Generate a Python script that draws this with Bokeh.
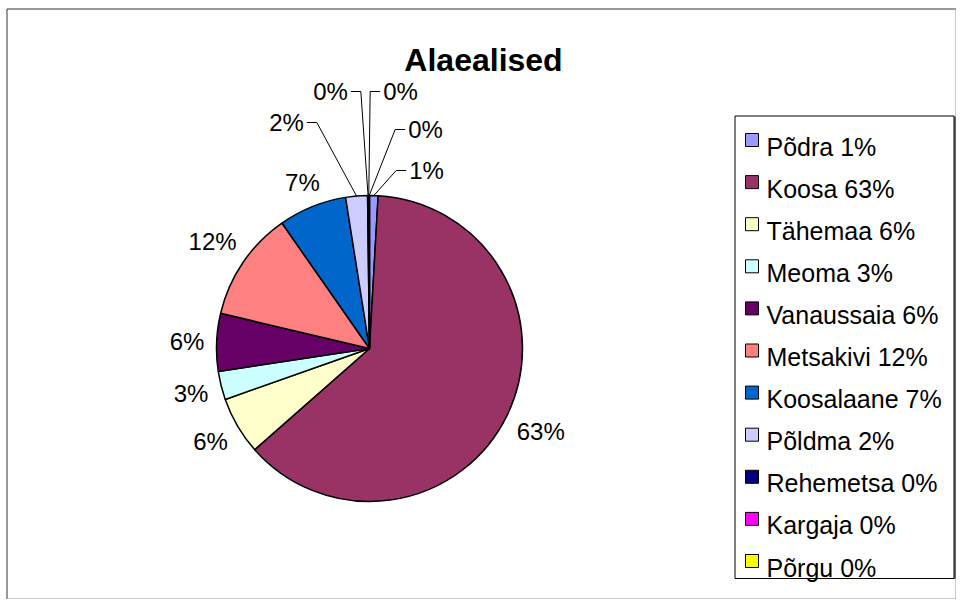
import math
from bokeh.plotting import figure
from bokeh.models import Range1d, ColumnDataSource
from bokeh.embed import file_html
from bokeh.resources import INLINE
from bokeh.core.properties import value

# ---------------- data ----------------
title = "Alaealised"
names = ["Põdra", "Koosa", "Tähemaa", "Meoma", "Vanaussaia", "Metsakivi",
         "Koosalaane", "Põldma", "Rehemetsa", "Kargaja", "Põrgu"]
shares = [0.9, 62.6, 6.1, 3.0, 6.1, 11.6, 7.2, 2.3, 0.1, 0.05, 0.05]
colors = ["#9999FF", "#993366", "#FFFFCC", "#CCFFFF", "#660066", "#FF8080",
          "#0066CC", "#CCCCFF", "#000080", "#FF00FF", "#FFFF00"]

# ---------------- layout ----------------
W, H = 956, 599
FONT = "Liberation Sans"
LBL_SIZE = 24
LEG_SIZE = 25


def X(px):
    return px


def Y(py):
    return H - py


CX, CY, R = X(369), Y(348), 153
GAP = 12
# label centre offsets (px from pie centre) for the crowded small slices
small_label_offsets = {0: (57, -178), 7: (-83, -226), 8: (-39, -257),
                       9: (31, -257), 10: (56, -219)}

p = figure(width=W, height=H, x_range=Range1d(0, W), y_range=Range1d(0, H),
           output_backend="svg", toolbar_location=None, min_border=0,
           x_axis_type=None, y_axis_type=None)
p.grid.visible = False
p.outline_line_color = None
p.background_fill_color = "white"
p.border_fill_color = "white"

# chart border
p.multi_line(xs=[[X(6.5), X(6.5), W - 0.5], [W - 0.5, W - 0.5, X(6.5)]],
             ys=[[0.5, Y(8.5), Y(8.5)], [Y(8.5), 0.5, 0.5]],
             line_color=["#333333", "#999999"], line_width=1)

# wedges
total = sum(shares)
cum = 0.0
starts, ends, mids = [], [], []
for s in shares:
    a0 = 2 * math.pi * cum / total
    cum += s
    a1 = 2 * math.pi * cum / total
    starts.append(math.pi / 2 - a1)
    ends.append(math.pi / 2 - a0)
    mids.append((a0 + a1) / 2)

src = ColumnDataSource(dict(start=starts, end=ends, color=colors))
p.wedge(x=CX, y=CY, radius=R, start_angle="start", end_angle="end",
        fill_color="color", line_color="black", line_width=1.5, source=src)

pct = ["%d%%" % round(s * 100 / total) for s in shares]


def half_w(txt, size):
    w = 0.0
    for ch in txt:
        w += 0.889 if ch == "%" else 0.556
    return w * size / 2


lx, ly, lt = [], [], []
lead_xs, lead_ys = [], []
hh = 0.716 * LBL_SIZE / 2
for i, th in enumerate(mids):
    sx, cy_ = math.sin(th), math.cos(th)
    hw = half_w(pct[i], LBL_SIZE)
    if i in small_label_offsets:
        dx, dy = small_label_offsets[i]
        tx, ty = CX + dx, CY - dy
        if dx > 0:
            edge = tx - hw - 3
            elbow = edge - 10
        else:
            edge = tx + hw + 3
            elbow = edge + 10
        px_, py_ = CX + R * sx, CY + R * cy_
        lead_xs.append([edge, elbow, px_])
        lead_ys.append([ty, ty, py_])
    else:
        d = R + GAP + abs(sx) * hw + abs(cy_) * hh
        tx, ty = CX + d * sx, CY + d * cy_
    lx.append(tx)
    ly.append(ty)
    lt.append(pct[i])

p.multi_line(xs=lead_xs, ys=lead_ys, line_color="black", line_width=1)
p.text(x=lx, y=ly, text=lt, text_font=value(FONT),
       text_font_size=value("%dpx" % LBL_SIZE), text_align="center",
       text_baseline="middle", text_color="black")

# title
p.text(x=[X(483)], y=[Y(59)], text=[title], text_font=value(FONT),
       text_font_size=value("32px"), text_font_style="bold",
       text_align="center", text_baseline="alphabetic", text_color="black")

# legend
p.quad(left=[X(734.5)], right=[X(953.5)], top=[Y(115.5)], bottom=[Y(578)],
       fill_color="white", line_color="black", line_width=1)
p.line(x=[X(954.5), X(954.5)], y=[Y(116), Y(578.5)], line_color="black", line_width=1)
row0, step = 139.5, 42.1
sw_x = [X(751.5)] * len(names)
sw_y = [Y(row0 + step * i) for i in range(len(names))]
p.rect(x=sw_x, y=sw_y, width=13, height=13, fill_color=colors,
       line_color="black", line_width=1)
leg_text = ["%s %s" % (n, t) for n, t in zip(names, pct)]
p.text(x=[X(766)] * len(names), y=[Y(row0 + step * i + 6.5) for i in range(len(names))],
       text=leg_text, text_font=value(FONT), text_font_size=value("%dpx" % LEG_SIZE),
       text_align="left", text_baseline="alphabetic", text_color="black")

open("out.html", "w").write(file_html(p, INLINE))
